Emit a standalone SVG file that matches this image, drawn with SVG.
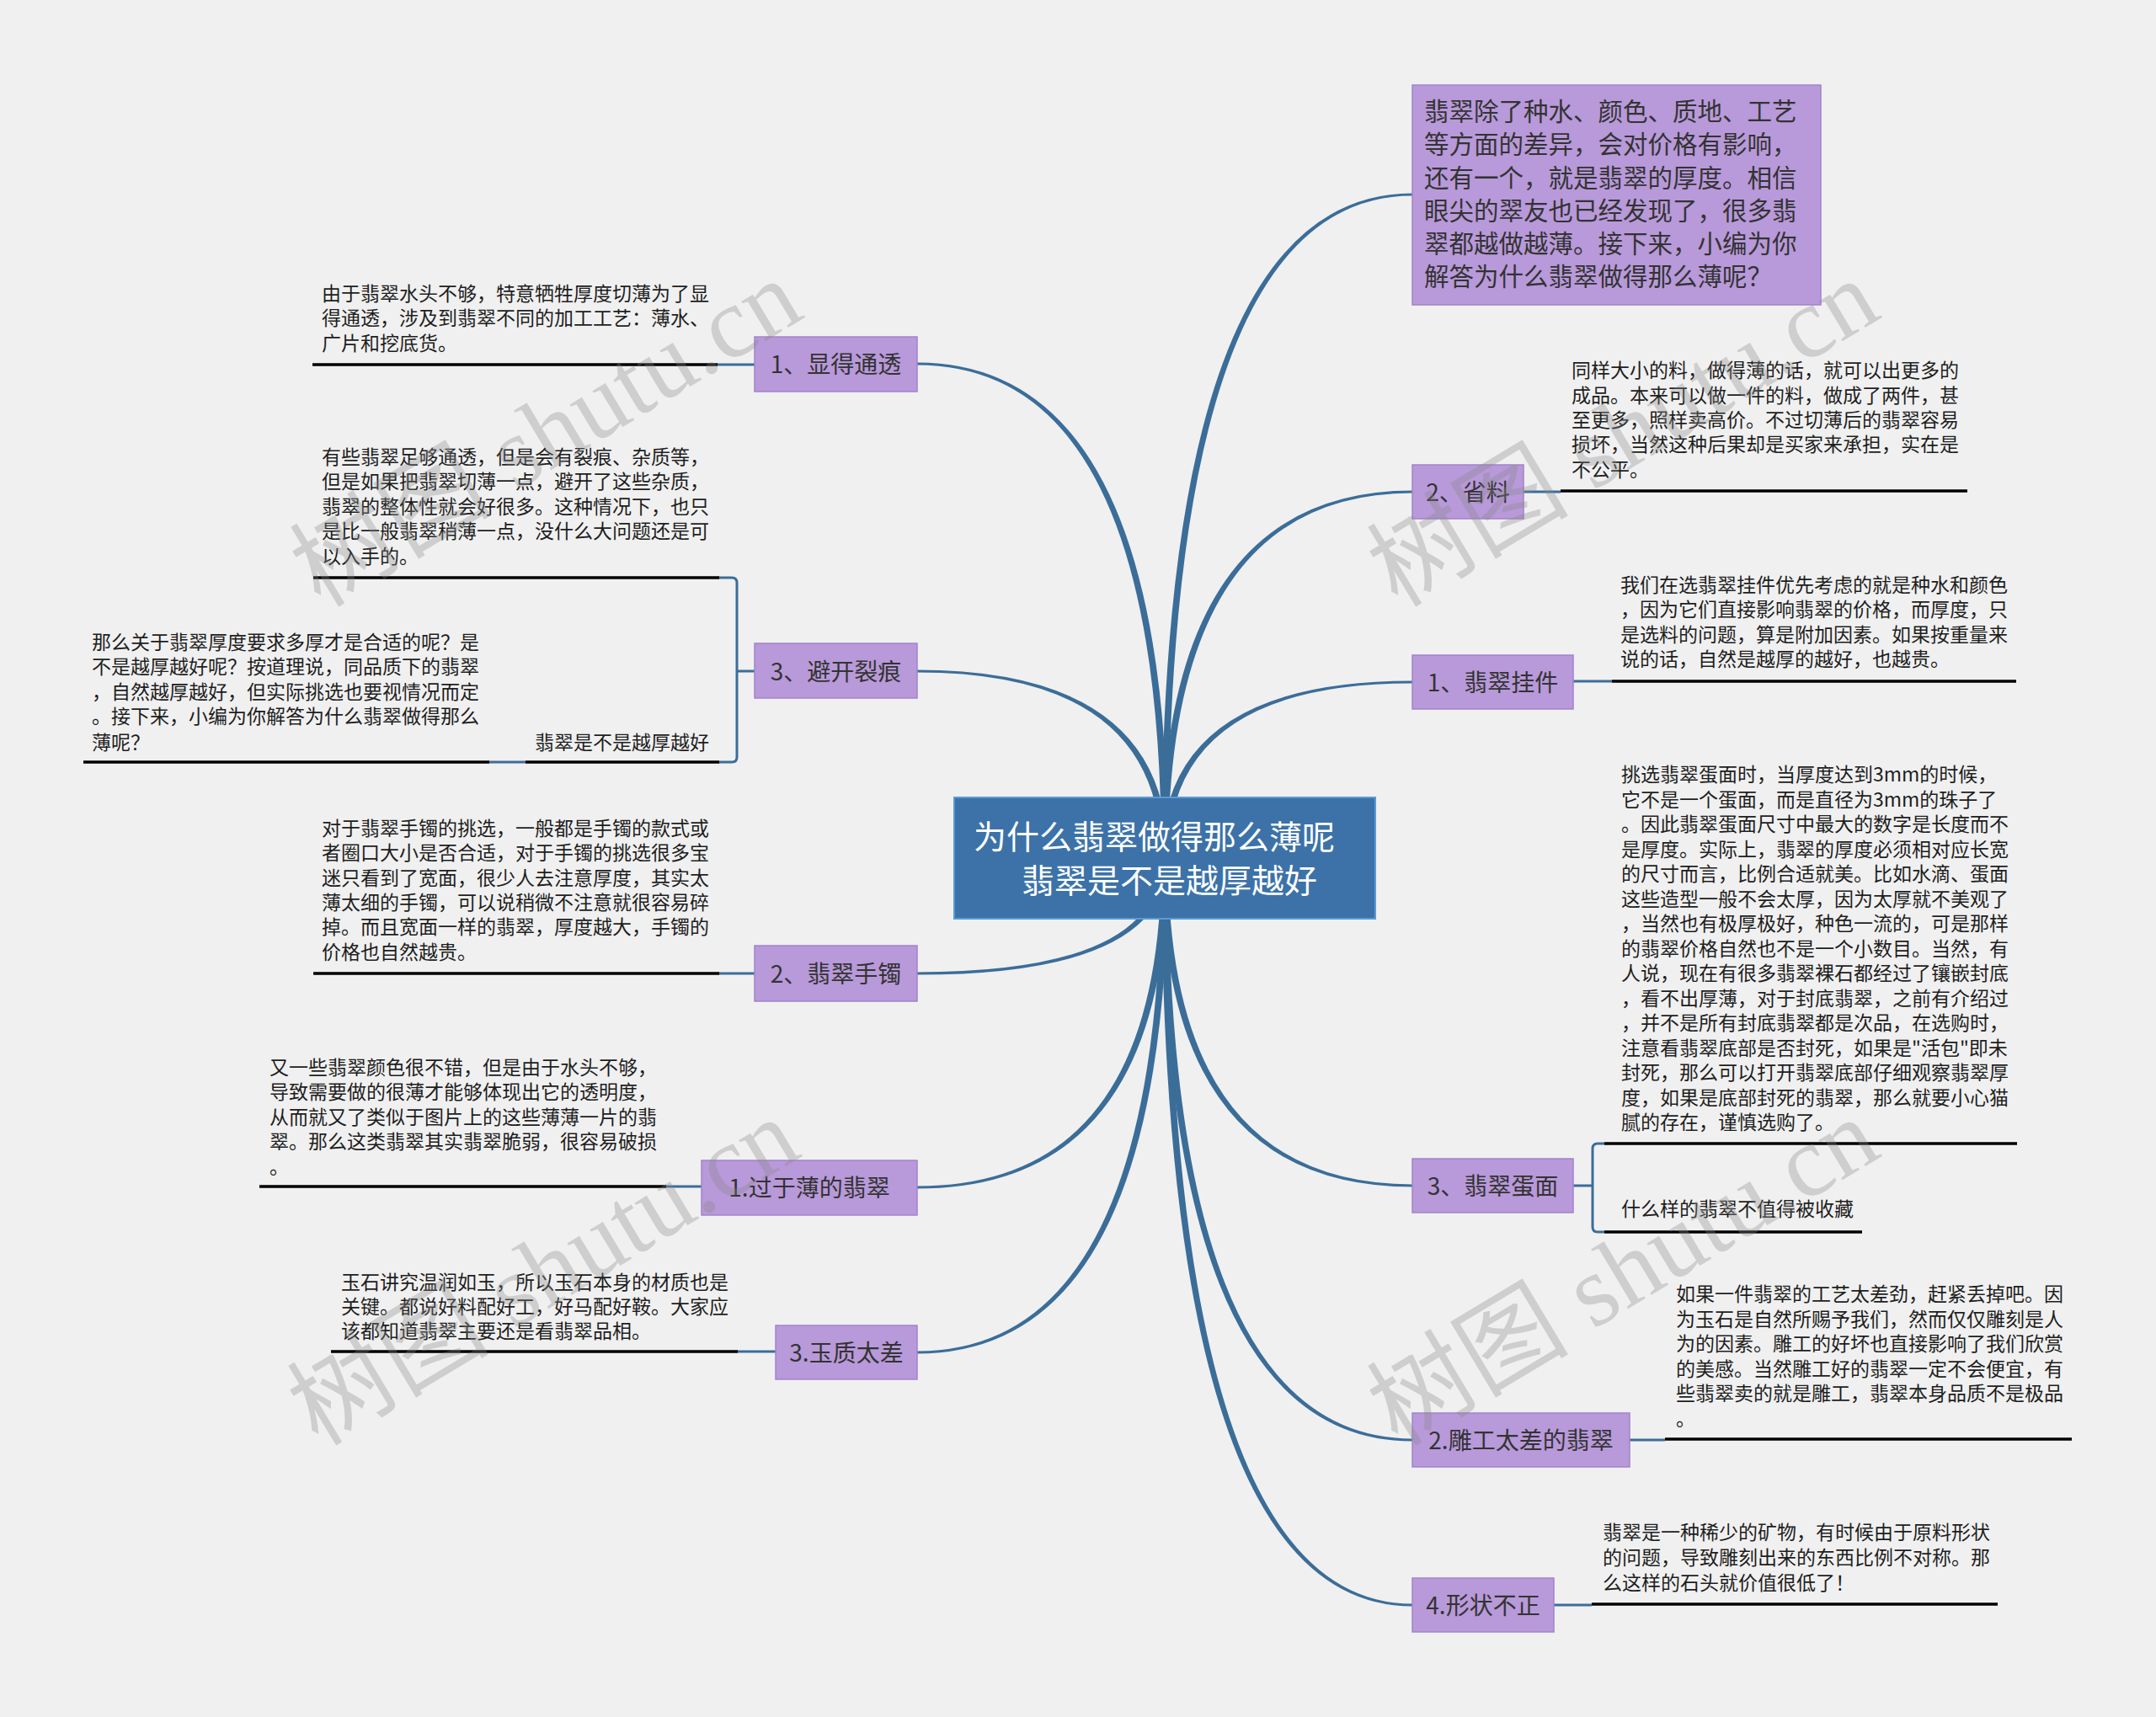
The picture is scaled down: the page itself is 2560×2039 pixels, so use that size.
<svg xmlns="http://www.w3.org/2000/svg" width="2560" height="2039" viewBox="0 0 2560 2039">
<style>
text{font-family:"Noto Sans CJK SC","Noto Sans",sans-serif}
.leaf{font-size:23px;fill:#1e1e1e}
.lbl{font-size:28px;fill:#333;text-anchor:middle}
.box{fill:#b899d9;stroke:#a283cb;stroke-width:1.5}
.conn{fill:#3b6d99}
.bl{stroke:#3b6d99;stroke-width:3;fill:none}
.ul{stroke:#000;stroke-width:3.5;fill:none}
.wm{font-family:"Liberation Serif","Noto Sans CJK SC",serif;font-size:120px;fill:#8a8a8a;fill-opacity:0.33;text-anchor:middle}
</style>
<rect width="2560" height="2039" fill="#f0f0f0"/>
<g id="connectors">
<path class="conn" d="M1379,1019 Q1379,229.5 1677,229.5 L1677,232.5 Q1387,232.5 1387,1019 Z"/>
<path class="conn" d="M1379,1019 Q1379,582.5 1677,582.5 L1677,585.5 Q1387,585.5 1387,1019 Z"/>
<path class="conn" d="M1379,1019 Q1379,808.5 1677,808.5 L1677,811.5 Q1387,811.5 1387,1019 Z"/>
<path class="conn" d="M1379,1019 Q1379,1409.5 1677,1409.5 L1677,1406.5 Q1387,1406.5 1387,1019 Z"/>
<path class="conn" d="M1379,1019 Q1379,1711.5 1677,1711.5 L1677,1708.5 Q1387,1708.5 1387,1019 Z"/>
<path class="conn" d="M1379,1019 Q1379,1907.5 1677,1907.5 L1677,1904.5 Q1387,1904.5 1387,1019 Z"/>
<path class="conn" d="M1387,1019 Q1387,430.5 1089,430.5 L1089,433.5 Q1379,433.5 1379,1019 Z"/>
<path class="conn" d="M1387,1019 Q1387,795.5 1089,795.5 L1089,798.5 Q1379,798.5 1379,1019 Z"/>
<path class="conn" d="M1387,1019 Q1387,1157.5 1089,1157.5 L1089,1154.5 Q1379,1154.5 1379,1019 Z"/>
<path class="conn" d="M1387,1019 Q1387,1411.5 1089,1411.5 L1089,1408.5 Q1379,1408.5 1379,1019 Z"/>
<path class="conn" d="M1387,1019 Q1387,1607.5 1089,1607.5 L1089,1604.5 Q1379,1604.5 1379,1019 Z"/>
<path class="bl" d="M852,433 H896"/>
<path class="bl" d="M896,797 H875 M854,686 H869 Q875,686 875,692 V899 Q875,905 869,905 H854"/>
<path class="bl" d="M581,905 H624"/>
<path class="bl" d="M854,1156 H896"/>
<path class="bl" d="M791,1409 H833"/>
<path class="bl" d="M876,1605 H921"/>
<path class="bl" d="M1809,584 H1853"/>
<path class="bl" d="M1868,809 H1914"/>
<path class="bl" d="M1868,1408 H1891 M1905,1358 H1897 Q1891,1358 1891,1364 V1457 Q1891,1463 1897,1463 H1905"/>
<path class="bl" d="M1935,1710 H1977"/>
<path class="bl" d="M1845,1906 H1890"/>
<path class="ul" d="M371,433 H852"/>
<path class="ul" d="M372,686 H854"/>
<path class="ul" d="M624,905 H854"/>
<path class="ul" d="M99,905 H581"/>
<path class="ul" d="M372,1156 H854"/>
<path class="ul" d="M308,1409 H791"/>
<path class="ul" d="M393,1605 H876"/>
<path class="ul" d="M1853,583 H2336"/>
<path class="ul" d="M1914,809 H2394"/>
<path class="ul" d="M1905,1358 H2395"/>
<path class="ul" d="M1905,1463 H2211"/>
<path class="ul" d="M1977,1709 H2460"/>
<path class="ul" d="M1890,1905 H2372"/>
</g>
<g id="center">
<rect x="1133" y="947" width="500" height="144" fill="#3c72a8" stroke="#5a9ad6" stroke-width="2"/>
<text x="1156" y="1008" font-size="39" fill="#fff">为什么翡翠做得那么薄呢</text>
<text x="1213" y="1060" font-size="39" fill="#fff">翡翠是不是越厚越好</text>
</g>
<g id="intro">
<rect class="box" x="1677" y="101" width="485" height="261"/>
<text font-size="29.5" fill="#333"><tspan x="1691" y="143">翡翠除了种水、颜色、质地、工艺</tspan><tspan x="1691" y="182">等方面的差异，会对价格有影响，</tspan><tspan x="1691" y="222">还有一个，就是翡翠的厚度。相信</tspan><tspan x="1691" y="261">眼尖的翠友也已经发现了，很多翡</tspan><tspan x="1691" y="300">翠都越做越薄。接下来，小编为你</tspan><tspan x="1691" y="339">解答为什么翡翠做得那么薄呢？</tspan></text>
</g>
<g id="n-shengliao">
<rect class="box" x="1677" y="552" width="132" height="64"/>
<text class="lbl" x="1743" y="594.5">2、省料</text>
</g>
<g id="t-shengliao">
<text class="leaf"><tspan x="1866" y="448">同样大小的料，做得薄的话，就可以出更多的</tspan><tspan x="1866" y="478">成品。本来可以做一件的料，做成了两件，甚</tspan><tspan x="1866" y="507">至更多，照样卖高价。不过切薄后的翡翠容易</tspan><tspan x="1866" y="536">损坏，当然这种后果却是买家来承担，实在是</tspan><tspan x="1866" y="566">不公平。</tspan></text>
</g>
<g id="n-guajian">
<rect class="box" x="1677" y="778" width="191" height="64"/>
<text class="lbl" x="1772.5" y="820.5">1、翡翠挂件</text>
</g>
<g id="t-guajian">
<text class="leaf"><tspan x="1924" y="703">我们在选翡翠挂件优先考虑的就是种水和颜色</tspan><tspan x="1924" y="732">，因为它们直接影响翡翠的价格，而厚度，只</tspan><tspan x="1924" y="762">是选料的问题，算是附加因素。如果按重量来</tspan><tspan x="1924" y="791">说的话，自然是越厚的越好，也越贵。</tspan></text>
</g>
<g id="n-danmian">
<rect class="box" x="1677" y="1376" width="191" height="64"/>
<text class="lbl" x="1772.5" y="1418.5">3、翡翠蛋面</text>
</g>
<g id="t-danmian">
<text class="leaf"><tspan x="1925" y="928">挑选翡翠蛋面时，当厚度达到3mm的时候，</tspan><tspan x="1925" y="957.5">它不是一个蛋面，而是直径为3mm的珠子了</tspan><tspan x="1925" y="987">。因此翡翠蛋面尺寸中最大的数字是长度而不</tspan><tspan x="1925" y="1016.5">是厚度。实际上，翡翠的厚度必须相对应长宽</tspan><tspan x="1925" y="1046">的尺寸而言，比例合适就美。比如水滴、蛋面</tspan><tspan x="1925" y="1075.5">这些造型一般不会太厚，因为太厚就不美观了</tspan><tspan x="1925" y="1105">，当然也有极厚极好，种色一流的，可是那样</tspan><tspan x="1925" y="1134.5">的翡翠价格自然也不是一个小数目。当然，有</tspan><tspan x="1925" y="1164">人说，现在有很多翡翠裸石都经过了镶嵌封底</tspan><tspan x="1925" y="1193.5">，看不出厚薄，对于封底翡翠，之前有介绍过</tspan><tspan x="1925" y="1223">，并不是所有封底翡翠都是次品，在选购时，</tspan><tspan x="1925" y="1252.5">注意看翡翠底部是否封死，如果是"活包"即未</tspan><tspan x="1925" y="1282">封死，那么可以打开翡翠底部仔细观察翡翠厚</tspan><tspan x="1925" y="1311.5">度，如果是底部封死的翡翠，那么就要小心猫</tspan><tspan x="1925" y="1341">腻的存在，谨慎选购了。</tspan></text>
</g>
<g id="t-shoucang">
<text class="leaf" x="1925" y="1444">什么样的翡翠不值得被收藏</text>
</g>
<g id="n-diaogong">
<rect class="box" x="1677" y="1678" width="258" height="64"/>
<text class="lbl" x="1806" y="1720.5">2.雕工太差的翡翠</text>
</g>
<g id="t-diaogong">
<text class="leaf"><tspan x="1990" y="1545">如果一件翡翠的工艺太差劲，赶紧丢掉吧。因</tspan><tspan x="1990" y="1574.5">为玉石是自然所赐予我们，然而仅仅雕刻是人</tspan><tspan x="1990" y="1604">为的因素。雕工的好坏也直接影响了我们欣赏</tspan><tspan x="1990" y="1633.5">的美感。当然雕工好的翡翠一定不会便宜，有</tspan><tspan x="1990" y="1663">些翡翠卖的就是雕工，翡翠本身品质不是极品</tspan><tspan x="1990" y="1692.5">。</tspan></text>
</g>
<g id="n-xingzhuang">
<rect class="box" x="1677" y="1874" width="168" height="64"/>
<text class="lbl" x="1761" y="1916.5">4.形状不正</text>
</g>
<g id="t-xingzhuang">
<text class="leaf"><tspan x="1903" y="1828">翡翠是一种稀少的矿物，有时候由于原料形状</tspan><tspan x="1903" y="1858">的问题，导致雕刻出来的东西比例不对称。那</tspan><tspan x="1903" y="1888">么这样的石头就价值很低了！</tspan></text>
</g>
<g id="n-tongtou">
<rect class="box" x="896" y="400" width="193" height="65"/>
<text class="lbl" x="992.5" y="443">1、显得通透</text>
</g>
<g id="t-tongtou">
<text class="leaf"><tspan x="382" y="357">由于翡翠水头不够，特意牺牲厚度切薄为了显</tspan><tspan x="382" y="386">得通透，涉及到翡翠不同的加工工艺：薄水、</tspan><tspan x="382" y="416">广片和挖底货。</tspan></text>
</g>
<g id="n-liehen">
<rect class="box" x="896" y="764" width="193" height="65"/>
<text class="lbl" x="992.5" y="807.5">3、避开裂痕</text>
</g>
<g id="t-liehen">
<text class="leaf"><tspan x="382" y="551">有些翡翠足够通透，但是会有裂痕、杂质等，</tspan><tspan x="382" y="580">但是如果把翡翠切薄一点，避开了这些杂质，</tspan><tspan x="382" y="610">翡翠的整体性就会好很多。这种情况下，也只</tspan><tspan x="382" y="639">是比一般翡翠稍薄一点，没什么大问题还是可</tspan><tspan x="382" y="669">以入手的。</tspan></text>
</g>
<g id="t-yuehou">
<text class="leaf" x="635" y="890">翡翠是不是越厚越好</text>
</g>
<g id="t-duohou">
<text class="leaf"><tspan x="109" y="771">那么关于翡翠厚度要求多厚才是合适的呢？是</tspan><tspan x="109" y="800">不是越厚越好呢？按道理说，同品质下的翡翠</tspan><tspan x="109" y="830">，自然越厚越好，但实际挑选也要视情况而定</tspan><tspan x="109" y="859">。接下来，小编为你解答为什么翡翠做得那么</tspan><tspan x="109" y="890">薄呢？</tspan></text>
</g>
<g id="n-shouzhuo">
<rect class="box" x="896" y="1123" width="193" height="66"/>
<text class="lbl" x="992.5" y="1166.5">2、翡翠手镯</text>
</g>
<g id="t-shouzhuo">
<text class="leaf"><tspan x="382" y="992">对于翡翠手镯的挑选，一般都是手镯的款式或</tspan><tspan x="382" y="1021">者圈口大小是否合适，对于手镯的挑选很多宝</tspan><tspan x="382" y="1051">迷只看到了宽面，很少人去注意厚度，其实太</tspan><tspan x="382" y="1080">薄太细的手镯，可以说稍微不注意就很容易碎</tspan><tspan x="382" y="1109">掉。而且宽面一样的翡翠，厚度越大，手镯的</tspan><tspan x="382" y="1139">价格也自然越贵。</tspan></text>
</g>
<g id="n-guobao">
<rect class="box" x="833" y="1378" width="256" height="65"/>
<text class="lbl" x="961" y="1421">1.过于薄的翡翠</text>
</g>
<g id="t-guobao">
<text class="leaf"><tspan x="320" y="1276">又一些翡翠颜色很不错，但是由于水头不够，</tspan><tspan x="320" y="1305">导致需要做的很薄才能够体现出它的透明度，</tspan><tspan x="320" y="1335">从而就又了类似于图片上的这些薄薄一片的翡</tspan><tspan x="320" y="1364">翠。那么这类翡翠其实翡翠脆弱，很容易破损</tspan><tspan x="320" y="1394">。</tspan></text>
</g>
<g id="n-yuzhi">
<rect class="box" x="921" y="1574" width="168" height="64"/>
<text class="lbl" x="1005" y="1616.5">3.玉质太差</text>
</g>
<g id="t-yuzhi">
<text class="leaf"><tspan x="405" y="1531">玉石讲究温润如玉，所以玉石本身的材质也是</tspan><tspan x="405" y="1560">关键。都说好料配好工，好马配好鞍。大家应</tspan><tspan x="405" y="1589">该都知道翡翠主要还是看翡翠品相。</tspan></text>
</g>
<g id="watermark">
<text class="wm" x="648" y="555" transform="rotate(-31 648 514)">树图 shutu.cn</text>
<text class="wm" x="1927" y="555" transform="rotate(-31 1927 514)">树图 shutu.cn</text>
<text class="wm" x="645" y="1551" transform="rotate(-31 645 1510)">树图 shutu.cn</text>
<text class="wm" x="1927" y="1551" transform="rotate(-31 1927 1510)">树图 shutu.cn</text>
</g>
</svg>
